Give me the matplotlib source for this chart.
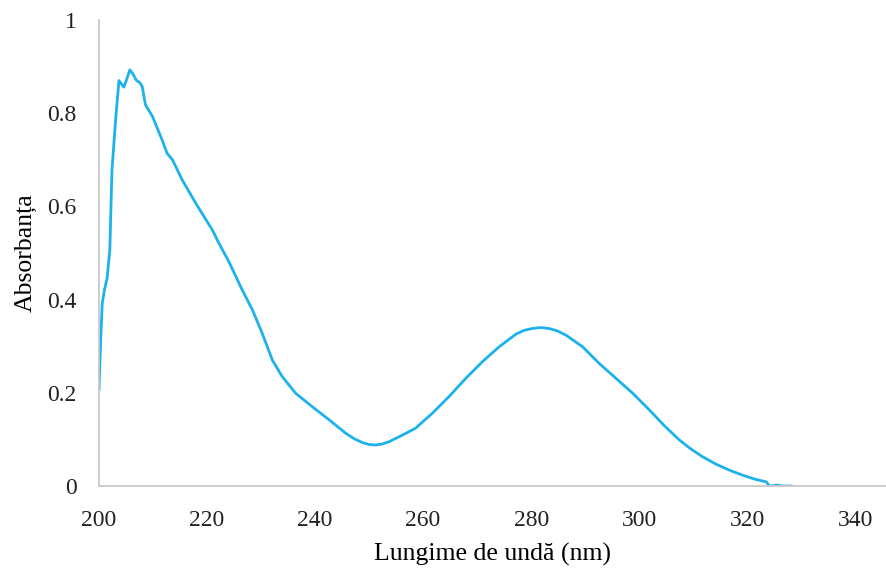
import matplotlib
matplotlib.use("Agg")
import matplotlib.pyplot as plt

wavelength = [200.0, 200.3, 200.6, 201.0, 201.5, 202.0, 202.4, 203.1, 203.7, 204.2, 204.6, 205.1,
              205.7, 206.3, 206.9, 207.6, 208.0, 208.6, 209.9, 211.7, 212.6, 213.6, 215.4, 217.9,
              221.0, 222.2, 224.1, 226.5, 228.4, 230.2, 232.1, 233.9, 236.4, 239.5, 242.6, 245.7,
              247.3, 248.8, 250.0, 251.2, 252.4, 253.7, 256.8, 258.6, 261.7, 264.8, 267.9, 271.0,
              274.1, 277.2, 278.7, 280.2, 281.8, 283.3, 284.8, 286.4, 289.5, 292.6, 295.7, 298.8,
              301.9, 304.6, 307.4, 309.5, 311.7, 314.2, 316.7, 319.2, 321.6, 323.5, 324.1, 325.0,
              325.6, 326.5, 328.3]
absorbance = [0.206, 0.310, 0.392, 0.420, 0.446, 0.506, 0.678, 0.790, 0.870, 0.862, 0.856, 0.872,
              0.893, 0.884, 0.871, 0.865, 0.857, 0.818, 0.793, 0.742, 0.714, 0.700, 0.657, 0.607,
              0.549, 0.521, 0.480, 0.421, 0.378, 0.328, 0.270, 0.235, 0.199, 0.170, 0.142, 0.113,
              0.101, 0.093, 0.089, 0.088, 0.090, 0.095, 0.113, 0.124, 0.156, 0.192, 0.231, 0.267,
              0.299, 0.326, 0.334, 0.338, 0.340, 0.338, 0.333, 0.324, 0.299, 0.263, 0.231, 0.199,
              0.163, 0.130, 0.099, 0.080, 0.063, 0.047, 0.034, 0.023, 0.014, 0.009, 0.000, 0.001,
              0.002, 0.000, 0.000]
xticks = [200, 220, 240, 260, 280, 300, 320, 340]
yticks = [0, 0.2, 0.4, 0.6, 0.8, 1]
ytick_labels = ["0", "0.2", "0.4", "0.6", "0.8", "1"]

plt.rcParams['font.family'] = ['Liberation Serif', 'DejaVu Serif']

fig = plt.figure(figsize=(8.86, 5.69), dpi=100)
ax = fig.add_axes([99/886, 1 - 486/569, 1 - 99/886 - 1/886, (486 - 20)/569])
ax.plot(wavelength, absorbance, color='#1cb2ec', linewidth=2.0,
        solid_joinstyle='round', solid_capstyle='round')
ax.set_xlim(200, 345.5)
ax.set_ylim(0, 1)
ax.set_xticks(xticks)
ax.set_yticks(yticks)
ax.set_yticklabels(ytick_labels)
for s in ['top', 'right']:
    ax.spines[s].set_visible(False)
for s in ['left', 'bottom']:
    ax.spines[s].set_color('#c8c8c8')
    ax.spines[s].set_linewidth(1.3)
ax.tick_params(axis='both', length=0, labelsize=17, colors='#222222')
ax.tick_params(axis='x', pad=17)
ax.tick_params(axis='y', pad=16)
ax.set_xlabel('Lungime de undă (nm)', fontsize=18.5, labelpad=9)
ax.set_ylabel('Absorbanța', fontsize=18.5, labelpad=8)
fig.savefig('out.png', dpi=100)
